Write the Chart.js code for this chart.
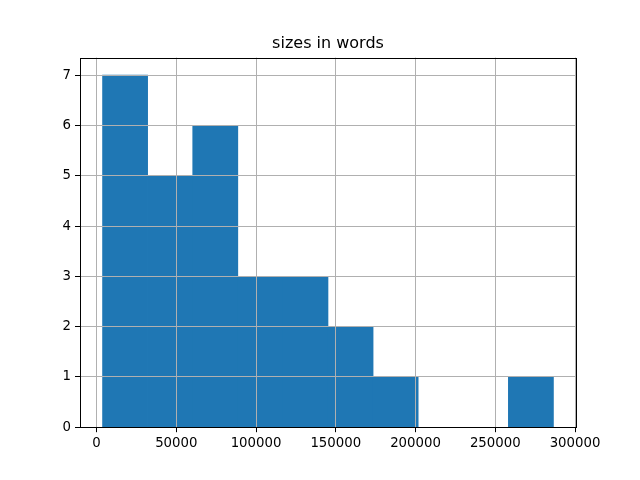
<!DOCTYPE html>
<html>
<head>
<meta charset="utf-8">
<script src="https://cdn.jsdelivr.net/npm/chart.js@4"></script>
<style>
  html, body { margin: 0; padding: 0; background: #fff; }
  #wrap { width: 640px; height: 480px; }
</style>
</head>
<body>
<div id="wrap"><canvas id="hist"></canvas></div>
<script>
// histogram data
const binEdges = [3774, 32044, 60314, 88584, 116854, 145124, 173394, 201664, 229934, 258204, 286474];
const counts = [7, 5, 6, 3, 3, 2, 1, 0, 0, 1];
const xTicks = [0, 50000, 100000, 150000, 200000, 250000, 300000];
const yTicks = [0, 1, 2, 3, 4, 5, 6, 7];
const titleText = 'sizes in words';

// empty bins are left out so no sliver gets drawn
const points = counts.map((c, i) => ({ x: (binEdges[i] + binEdges[i + 1]) / 2, y: c || null }));

// black box round the axes, like matplotlib's spines
const frame = {
    id: 'frame',
    afterDraw(chart) {
        const a = chart.chartArea;
        const ctx = chart.ctx;
        const l = Math.round(a.left), t = Math.round(a.top);
        const r = Math.round(a.right), b = Math.round(a.bottom);
        ctx.save();
        ctx.globalAlpha = 1;
        ctx.globalCompositeOperation = 'source-over';
        ctx.fillStyle = '#000000';
        ctx.fillRect(l, t, r - l + 1, 1);
        ctx.fillRect(l, b, r - l + 1, 1);
        ctx.fillRect(l, t, 1, b - t + 1);
        ctx.fillRect(r, t, 1, b - t + 1);
        ctx.restore();
    }
};

const font = { family: 'DejaVu Sans', size: 13.3 };

new Chart(document.getElementById('hist'), {
    type: 'bar',
    data: {
        datasets: [{
            data: points,
            backgroundColor: '#1f77b4',
            borderWidth: 0,
            barPercentage: 1,
            categoryPercentage: 1
        }]
    },
    options: {
        responsive: true,
        maintainAspectRatio: false,
        animation: false,
        layout: { padding: { left: 0, right: 64, top: 0, bottom: 0 } },
        plugins: {
            legend: { display: false },
            tooltip: { enabled: false },
            title: {
                display: true,
                fullSize: false,
                text: titleText,
                color: '#000',
                font: { family: 'DejaVu Sans', size: 16, weight: 'normal', lineHeight: 1.2 },
                padding: { top: 33.9, bottom: 4.5 }
            }
        },
        scales: {
            x: {
                type: 'linear',
                offset: false,
                min: -10361,
                max: 300613,
                afterBuildTicks: s => { s.ticks = xTicks.map(v => ({ value: v })); },
                afterFit: s => { s.height = 52.8; },
                grid: { color: '#b0b0b0', lineWidth: 1, z: 1, tickColor: '#000', tickLength: 5, offset: false },
                border: { display: false },
                ticks: { color: '#000', font: font, padding: 3, maxRotation: 0, autoSkip: false,
                    callback: v => String(v) }
            },
            y: {
                type: 'linear',
                min: 0,
                max: 7.35,
                afterBuildTicks: s => { s.ticks = yTicks.map(v => ({ value: v })); },
                afterFit: s => { s.width = 80; },
                grid: { color: '#b0b0b0', lineWidth: 1, z: 1, tickColor: '#000', tickLength: 5 },
                border: { display: false },
                ticks: { color: '#000', font: font, padding: 4, autoSkip: false,
                    callback: v => String(v) }
            }
        }
    },
    plugins: [frame]
});
</script>
</body>
</html>
